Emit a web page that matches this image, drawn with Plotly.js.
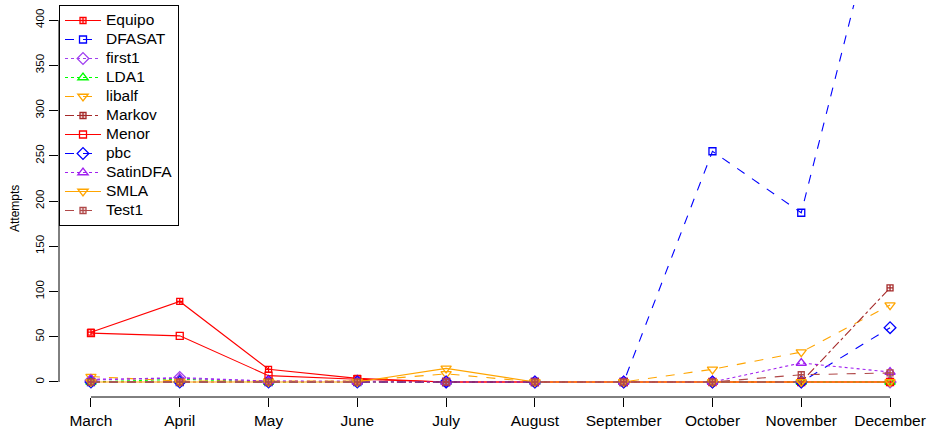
<!DOCTYPE html>
<html>
<head>
<meta charset="utf-8">
<script src="https://cdn.plot.ly/plotly-3.0.1.min.js"></script>
<style>
  html, body { margin: 0; padding: 0; background: #fff; }
  #chart { width: 934px; height: 431px; }
  /* legend text drawn larger than the row spacing Plotly derives from legend.font.size */
  .legendtext { font-size: 15.5px !important; }
</style>
</head>
<body>
<div id="chart"></div>
<script>
// ---- data ----
const months = ["March", "April", "May", "June", "July", "August", "September", "October", "November", "December"];
const seriesNames = ["Equipo", "DFASAT", "first1", "LDA1", "libalf", "Markov", "Menor", "pbc", "SatinDFA", "SMLA", "Test1"];
const Equipo   = [55, 89, 14, 4, 0, 0, 0, 0, 0, 0];
const DFASAT   = [0, 0, 0, 0, 0, 0, 0, 255, 187, 575];
const first1   = [2, 5, 1, 1, 0, 0, 0, 0, 0, 0];
const LDA1     = [0, 3, 0, 0, 0, 0, 0, 0, 0, 0];
const libalf   = [6, 1, 1, 1, 9, 0, 0, 14, 33, 85];
const Markov   = [0, 0, 0, 0, 0, 0, 0, 0, 0, 104];
const Menor    = [54, 51, 7, 3, 0, 0, 0, 0, 0, 0];
const pbc      = [0, 0, 0, 0, 0, 0, 0, 0, 0, 60];
const SatinDFA = [3, 4, 1, 0, 0, 0, 0, 0, 21, 11];
const SMLA     = [0, 0, 0, 0, 15, 0, 0, 0, 0, 0];
const Test1    = [0, 0, 0, 0, 0, 0, 0, 0, 8, 10];
const yTicks = [0, 50, 100, 150, 200, 250, 300, 350, 400];

const values = [Equipo, DFASAT, first1, LDA1, libalf, Markov, Menor, pbc, SatinDFA, SMLA, Test1];

// ---- styles ----
const styles = [
  {color: "#FF0000", dash: "solid",   symbol: "square-cross-open", size: 6},
  {color: "#0000FF", dash: "dash",    symbol: "square-open",       size: 7},
  {color: "#A040F0", dash: "dot",     symbol: "diamond-open",      size: 9},
  {color: "#00FF00", dash: "dot",     symbol: "triangle-up-open",  size: 9},
  {color: "#FFA500", dash: "dash",    symbol: "triangle-down-open",size: 9},
  {color: "#A52A2A", dash: "dashdot", symbol: "square-cross-open", size: 6},
  {color: "#FF0000", dash: "solid",   symbol: "square-open",       size: 7},
  {color: "#0000FF", dash: "dash",    symbol: "diamond-open",      size: 9},
  {color: "#A020F0", dash: "dot",     symbol: "triangle-up-open",  size: 9},
  {color: "#FFA500", dash: "solid",   symbol: "triangle-down-open",size: 9},
  {color: "#B04848", dash: "dash",    symbol: "square-cross-open", size: 6}
];

const traces = seriesNames.map((name, i) => ({
  type: "scatter",
  mode: "lines+markers",
  name: name,
  x: months,
  y: values[i],
  line: {color: styles[i].color, width: 1.1, dash: styles[i].dash},
  marker: {symbol: styles[i].symbol, size: styles[i].size, color: styles[i].color,
           line: {color: styles[i].color, width: 1.3}},
  cliponaxis: true
}));

const font = "Liberation Sans, Arial, Helvetica, sans-serif";

const layout = {
  width: 934, height: 431,
  margin: {l: 59, r: 12, t: 5, b: 34, pad: 0},
  paper_bgcolor: "#fff", plot_bgcolor: "#fff",
  font: {family: font, color: "#000"},
  showlegend: true,
  legend: {
    x: 0, y: 1.0, xanchor: "left", yanchor: "top",
    bgcolor: "#fff", bordercolor: "#000", borderwidth: 1,
    font: {family: font, size: 12.2, color: "#000"},
    tracegroupgap: 0, itemwidth: 36
  },
  xaxis: {
    type: "category",
    range: [-0.36, 9.36],
    showgrid: false, zeroline: false, showline: false,
    ticks: "outside", ticklen: 9, tickwidth: 1, tickcolor: "#000",
    tickfont: {family: font, size: 15.5, color: "#000"},
    fixedrange: true
  },
  yaxis: {
    range: [-16.6, 416.6],
    tickvals: yTicks,
    ticktext: yTicks.map(String),
    tickangle: -90,
    showgrid: false, zeroline: false, showline: false,
    ticks: "outside", ticklen: 9, tickwidth: 1, tickcolor: "#000",
    tickfont: {family: font, size: 11.5, color: "#000"},
    fixedrange: true
  },
  shapes: [
    {type: "line", xref: "x", yref: "paper", x0: 0, x1: 9, y0: 0, y1: 0,
     line: {color: "#000", width: 1}},
    {type: "line", xref: "paper", yref: "y", x0: 0, x1: 0, y0: 0, y1: 400,
     line: {color: "#000", width: 1}}
  ],
  annotations: [
    {text: "Attempts", xref: "paper", yref: "paper", x: -0.051, y: 0.482,
     xanchor: "center", yanchor: "middle", textangle: -90, showarrow: false,
     font: {family: font, size: 12, color: "#000"}}
  ]
};

Plotly.newPlot("chart", traces, layout, {displayModeBar: false, staticPlot: true});
</script>
</body>
</html>
